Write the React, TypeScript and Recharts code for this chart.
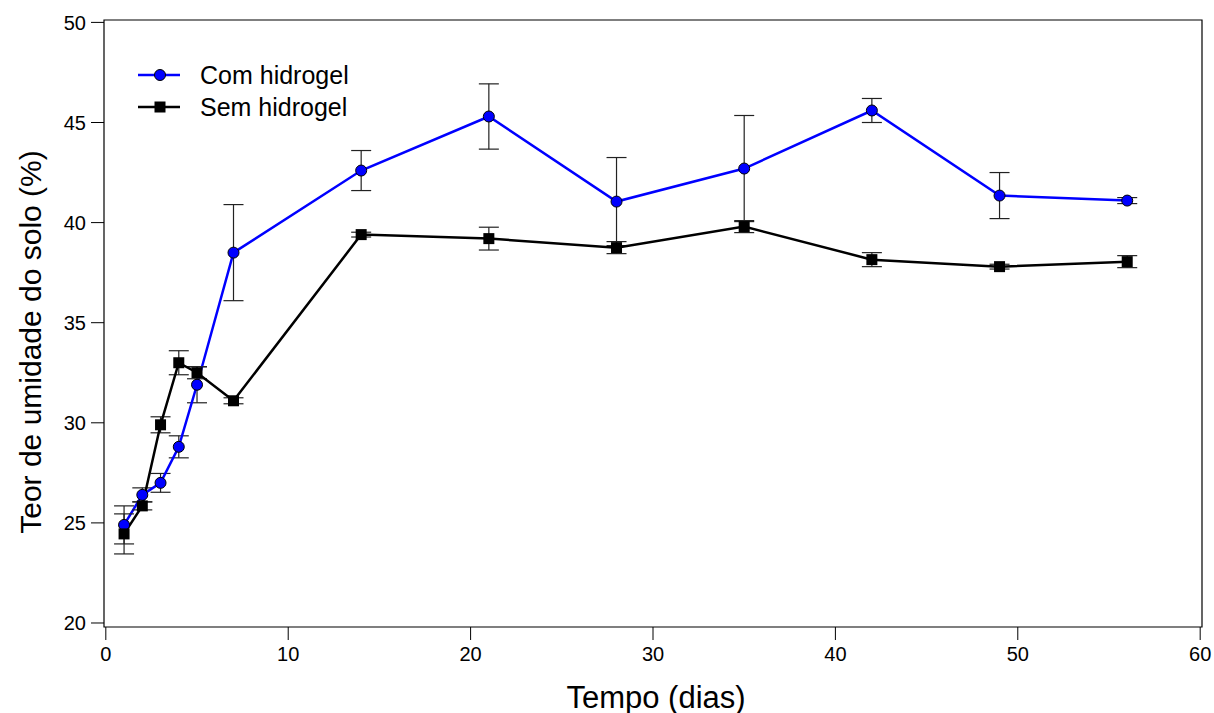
import React from "react";
import {
  LineChart,
  Line,
  XAxis,
  YAxis,
  ErrorBar,
  ReferenceArea,
  Legend,
  Label,
} from "recharts";

const days = [1, 2, 3, 4, 5, 7, 14, 21, 28, 35, 42, 49, 56];
const comHidrogel = [24.9, 26.4, 27.0, 28.8, 31.9, 38.5, 42.6, 45.3, 41.05, 42.7, 45.6, 41.35, 41.1];
const comErr = [0.95, 0.35, 0.47, 0.55, 0.9, 2.4, 1.0, 1.63, 2.2, 2.65, 0.6, 1.15, 0.15];
const semHidrogel = [24.45, 25.85, 29.9, 33.0, 32.5, 31.1, 39.4, 39.2, 38.75, 39.8, 38.15, 37.8, 38.05];
const semErr = [1.0, 0.2, 0.4, 0.6, 0.3, 0.15, 0.12, 0.57, 0.3, 0.3, 0.35, 0.12, 0.3];
const xTicks = [0, 10, 20, 30, 40, 50, 60];
const yTicks = [20, 25, 30, 35, 40, 45, 50];
const seriesNames = ["Com hidrogel", "Sem hidrogel"];

const data = days.map((d, i) => ({
  day: d,
  com: comHidrogel[i],
  comErr: comErr[i],
  sem: semHidrogel[i],
  semErr: semErr[i],
}));

const FONT = "'Liberation Sans', Arial, sans-serif";

const SquareDot = (props: any) => {
  const { cx, cy } = props;
  if (cx == null || cy == null) return null;
  return <rect x={cx - 5.5} y={cy - 5.5} width={11} height={11} fill="#000" />;
};

const CircleDot = (props: any) => {
  const { cx, cy } = props;
  if (cx == null || cy == null) return null;
  return <circle cx={cx} cy={cy} r={5.5} fill="#0000ff" stroke="#000" strokeWidth={1} />;
};

const LegendContent = () => (
  <svg width={260} height={75} style={{ display: "block" }}>
    <line x1={8} y1={25} x2={50} y2={25} stroke="#0000ff" strokeWidth={2.5} />
    <circle cx={30} cy={25} r={5.5} fill="#0000ff" stroke="#000" strokeWidth={1} />
    <text x={70} y={25} dominantBaseline="central" fontSize={25} fontFamily={FONT} fill="#000">
      {seriesNames[0]}
    </text>
    <line x1={8} y1={57} x2={50} y2={57} stroke="#000" strokeWidth={2.5} />
    <rect x={24.5} y={51.5} width={11} height={11} fill="#000" />
    <text x={70} y={57} dominantBaseline="central" fontSize={25} fontFamily={FONT} fill="#000">
      {seriesNames[1]}
    </text>
  </svg>
);

export default function App() {
  return (
    <div
      style={{
        position: "fixed",
        top: 0,
        left: 0,
        width: 1214,
        height: 713,
        overflow: "hidden",
        background: "#fff",
      }}
    >
      <LineChart
        width={1214}
        height={713}
        data={data}
        margin={{ top: 20, right: 12, bottom: 0, left: 0 }}
      >
        <XAxis
          dataKey="day"
          type="number"
          domain={[-0.1, 60.1]}
          ticks={xTicks}
          axisLine={false}
          tickSize={13}
          tickMargin={7}
          height={86}
          tick={{ fontSize: 20, fontFamily: FONT, fill: "#000" }}
          tickLine={{ stroke: "#000", strokeWidth: 1 }}
          allowDataOverflow
        >
          <Label
            content={() => (
              <text
                x={656}
                y={697}
                textAnchor="middle"
                dominantBaseline="central"
                fontSize={31}
                fontFamily={FONT}
                fill="#000"
              >
                Tempo (dias)
              </text>
            )}
          />
        </XAxis>
        <YAxis
          type="number"
          domain={[19.8, 50.12]}
          ticks={yTicks}
          axisLine={false}
          tickSize={13}
          tickMargin={5}
          width={104}
          tick={{ fontSize: 20, fontFamily: FONT, fill: "#000" }}
          tickLine={{ stroke: "#000", strokeWidth: 1 }}
          allowDataOverflow
        >
          <Label
            content={() => (
              <text
                x={30}
                y={342}
                textAnchor="middle"
                dominantBaseline="central"
                fontSize={30}
                fontFamily={FONT}
                fill="#000"
                transform="rotate(-90, 30, 342)"
              >
                Teor de umidade do solo (%)
              </text>
            )}
          />
        </YAxis>
        <ReferenceArea
          x1={-0.1}
          x2={60.1}
          y1={19.8}
          y2={50.12}
          fill="none"
          stroke="#000"
          strokeWidth={1.2}
          ifOverflow="visible"
        />
        <Line
          dataKey="com"
          name={seriesNames[0]}
          stroke="#0000ff"
          strokeWidth={2.5}
          dot={<CircleDot />}
          activeDot={false}
          isAnimationActive={false}
        >
          <ErrorBar dataKey="comErr" width={10} stroke="#222" strokeWidth={1.2} direction="y" />
        </Line>
        <Line
          dataKey="sem"
          name={seriesNames[1]}
          stroke="#000"
          strokeWidth={2.5}
          dot={<SquareDot />}
          activeDot={false}
          isAnimationActive={false}
        >
          <ErrorBar dataKey="semErr" width={10} stroke="#222" strokeWidth={1.2} direction="y" />
        </Line>
        <Legend
          layout="vertical"
          align="center"
          verticalAlign="middle"
          wrapperStyle={{ top: 50, left: 130, width: 260, height: 75 }}
          content={() => <LegendContent />}
        />
      </LineChart>
    </div>
  );
}
